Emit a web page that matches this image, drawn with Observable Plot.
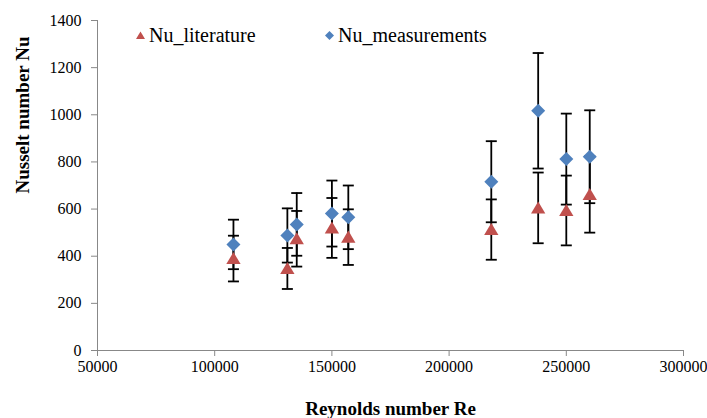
<!DOCTYPE html>
<html>
<head>
<meta charset="utf-8">
<script src="https://cdn.jsdelivr.net/npm/d3@7"></script>
<script src="https://cdn.jsdelivr.net/npm/@observablehq/plot@0.6"></script>
<style>
  html, body { margin: 0; padding: 0; background: #fff; }
  #wrap { position: relative; width: 707px; height: 418px; font-family: "Liberation Serif", serif; }
  #wrap svg text { font-family: "Liberation Serif", serif; }
  .legend { position: absolute; top: 23px; height: 24px; display: flex; align-items: center; font-size: 20px; line-height: 24px; color: #000; }
  .legend svg { margin-right: 4px; }
</style>
</head>
<body>
<div id="wrap"></div>
<script>
// Data
const reynolds   = [108000, 131000, 135000, 150000, 157000, 218000, 238000, 250000, 260000];
const nuLit      = [390, 348, 474, 520, 481, 513, 605, 594, 662];
const nuLitErr   = [97, 87, 118, 127, 118, 128, 150, 148, 162];
const nuMeas     = [450, 488, 535, 581, 565, 716, 1017, 812, 822];
const nuMeasErr  = [105, 115, 133, 140, 135, 172, 245, 193, 197];
const xTicks = [50000, 100000, 150000, 200000, 250000, 300000];
const yTicks = [0, 200, 400, 600, 800, 1000, 1200, 1400];
const seriesNames = ["Nu_literature", "Nu_measurements"];
const seriesColors = ["#C0504D", "#4F81BD"];

const lit = reynolds.map((re, i) => ({re, nu: nuLit[i], lo: nuLit[i] - nuLitErr[i], hi: nuLit[i] + nuLitErr[i]}));
const meas = reynolds.map((re, i) => ({re, nu: nuMeas[i], lo: nuMeas[i] - nuMeasErr[i], hi: nuMeas[i] + nuMeasErr[i]}));
const caps = [...lit, ...meas].flatMap(d => [{re: d.re, v: d.lo}, {re: d.re, v: d.hi}]);

const capSymbol = { draw(ctx, size) { const w = Math.sqrt(size / Math.PI); ctx.moveTo(-w, 0); ctx.lineTo(w, 0); } };
const triSymbol = { draw(ctx, size) { const r = Math.sqrt(size / Math.PI); ctx.moveTo(0, -r); ctx.lineTo(r * 1.1, r * 0.85); ctx.lineTo(-r * 1.1, r * 0.85); ctx.closePath(); } };
const diaSymbol = { draw(ctx, size) { const r = Math.sqrt(size / Math.PI); ctx.moveTo(0, -r); ctx.lineTo(r, 0); ctx.lineTo(0, r); ctx.lineTo(-r, 0); ctx.closePath(); } };

const chart = Plot.plot({
  width: 707,
  height: 418,
  marginLeft: 97,
  marginRight: 24,
  marginTop: 20,
  marginBottom: 68,
  style: { fontFamily: "Liberation Serif, serif", fontSize: "16px", color: "#000", background: "#fff" },
  x: { domain: [xTicks[0], xTicks[xTicks.length - 1]], ticks: xTicks, tickFormat: d3.format("d"), label: null },
  y: { domain: [yTicks[0], yTicks[yTicks.length - 1]], ticks: yTicks, tickFormat: d3.format("d"), label: null },
  marks: [
    Plot.axisX({ticks: xTicks, tickFormat: d3.format("d"), tickSize: 6, tickPadding: 4, stroke: "#888", fill: "#000", fontSize: 16}),
    Plot.axisY({ticks: yTicks, tickFormat: d3.format("d"), tickSize: 6, tickPadding: 10, stroke: "#888", fill: "#000", fontSize: 16}),
    Plot.ruleY([yTicks[0]], {stroke: "#888", strokeWidth: 1}),
    Plot.ruleX([xTicks[0]], {stroke: "#888", strokeWidth: 1}),
    Plot.ruleX([...lit, ...meas], {x: "re", y1: "lo", y2: "hi", stroke: "#000", strokeWidth: 1.8}),
    Plot.dot(caps, {x: "re", y: "v", symbol: capSymbol, r: 5.5, stroke: "#000", strokeWidth: 1.8, fill: "none"}),
    Plot.dot(lit, {x: "re", y: "nu", symbol: triSymbol, r: 6.5, fill: seriesColors[0], stroke: "none"}),
    Plot.dot(meas, {x: "re", y: "nu", symbol: diaSymbol, r: 7, fill: seriesColors[1], stroke: "none"}),
    Plot.text(["Reynolds number Re"], {frameAnchor: "bottom", dy: 64, fontWeight: "bold", fontSize: 19, lineAnchor: "bottom"}),
    Plot.text(["Nusselt number Nu"], {frameAnchor: "left", dx: -75, dy: 8, rotate: -90, fontWeight: "bold", fontSize: 19})
  ]
});

const wrap = document.getElementById("wrap");
wrap.appendChild(chart);

// Legend overlay
const legendPos = [136, 325];
seriesNames.forEach((name, i) => {
  const item = document.createElement("div");
  item.className = "legend";
  item.style.left = legendPos[i] + "px";
  const sym = i === 0
    ? `<svg width="9" height="9" viewBox="-4.5 -4.5 9 9"><path d="M0,-4L4.5,3.5L-4.5,3.5Z" fill="${seriesColors[0]}"/></svg>`
    : `<svg width="9" height="9" viewBox="-4.5 -4.5 9 9"><path d="M0,-4.5L4.5,0L0,4.5L-4.5,0Z" fill="${seriesColors[1]}"/></svg>`;
  item.innerHTML = sym + `<span>${name}</span>`;
  wrap.appendChild(item);
});
</script>
</body>
</html>
